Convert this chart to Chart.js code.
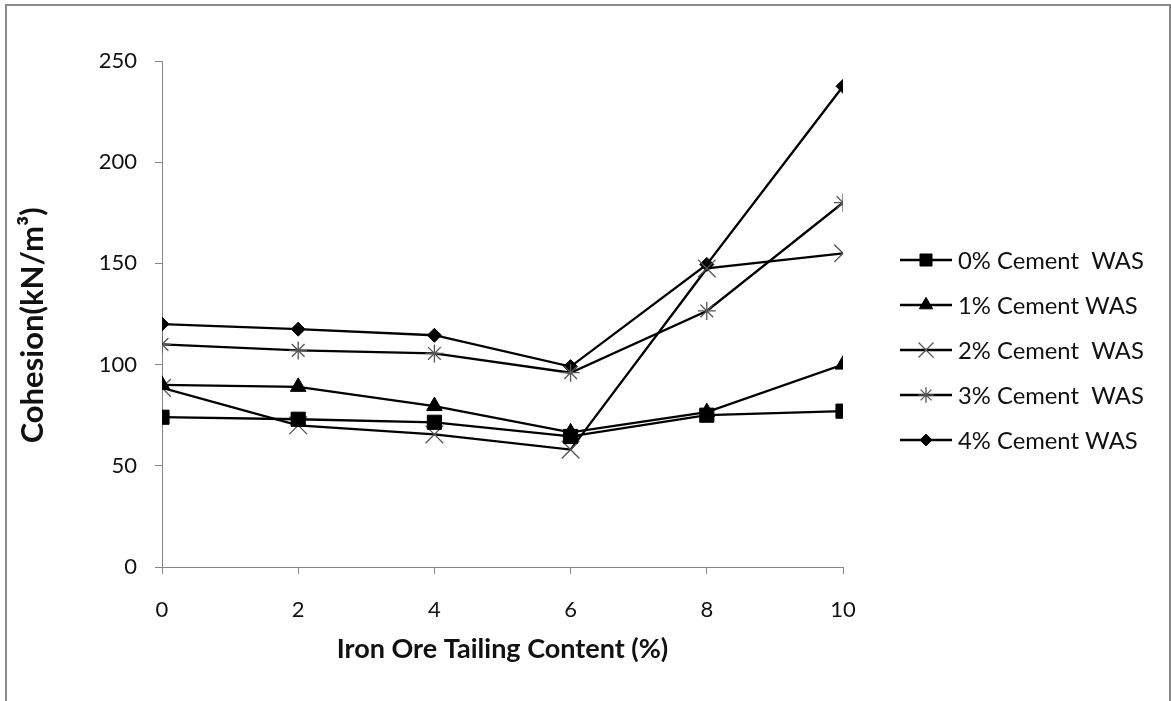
<!DOCTYPE html>
<html>
<head>
<meta charset="utf-8">
<script src="https://cdn.jsdelivr.net/npm/chart.js@4.4.1/dist/chart.umd.min.js"></script>
<style>
  html, body { margin: 0; padding: 0; background: #fff; overflow: hidden; }
  #wrap { position: relative; width: 1171px; height: 701px; }
  #frame {
    position: absolute; left: 5px; top: 4px; width: 1162px; height: 720px;
    border: 2px solid #8a8a8a; pointer-events: none;
  }
  canvas { position: absolute; left: 0; top: 0; }
</style>
</head>
<body>
<div id="wrap">
  <canvas id="chart" width="1171" height="701"></canvas>
  <div id="frame"></div>
</div>
<script>
// iron ore tailing content (%)
const xValues = [0, 2, 4, 6, 8, 10]

// cohesion
const cement0 = [74, 73, 71.5, 64.5, 75, 77]
const cement1 = [90, 89, 79.5, 66.5, 76.5, 100]
const cement2 = [88.5, 70, 65.5, 58, 147.5, 155]
const cement3 = [110, 107, 105.5, 96, 126.5, 180]
const cement4 = [120, 117.5, 114.5, 99, 149.5, 237.5]

const seriesLabels = ['0% Cement  WAS', '1% Cement WAS', '2% Cement  WAS', '3% Cement  WAS', '4% Cement WAS']
const seriesValues = [cement0, cement1, cement2, cement3, cement4]
const pointStyles = ['rect', 'triangle', 'crossRot', 'star', 'rectRot']

const xTitle = 'Iron Ore Tailing Content (%)'
const yTitle = 'Cohesion(kN/m\u00B3)   '

const FONT = 'Lato'
const axisGray = '#868686'

// legend placement (custom legend: line + marker + text)
const legendX = 900
const legendTop = 260
const legendGap = 45
const legendLine = 52

function markerOptions(style) {
    if (style === 'rect') return { r: 10, fill: '#000', stroke: '#000', w: 1 }
    if (style === 'triangle') return { r: 9, fill: '#000', stroke: '#000', w: 1 }
    if (style === 'crossRot') return { r: 12.5, fill: 'rgba(0,0,0,0)', stroke: '#555', w: 1.3 }
    if (style === 'star') return { r: 9, fill: 'rgba(0,0,0,0)', stroke: '#555', w: 1.3 }
    return { r: 7, fill: '#000', stroke: '#000', w: 1 }
}

function buildDatasets() {
    return seriesValues.map((vals, i) => {
        const m = markerOptions(pointStyles[i])
        return {
            label: seriesLabels[i],
            data: vals.map((v, j) => ({ x: xValues[j], y: v })),
            borderColor: '#000',
            borderWidth: 2.3,
            tension: 0,
            pointStyle: pointStyles[i],
            pointRadius: m.r,
            pointBackgroundColor: m.fill,
            pointBorderColor: m.stroke,
            pointBorderWidth: m.w
        }
    })
}

const legendPlugin = {
    id: 'lineLegend',
    afterDraw(chart) {
        const ctx = chart.ctx
        chart.data.datasets.forEach((ds, i) => {
            const y = legendTop + i * legendGap
            ctx.save()
            ctx.strokeStyle = ds.borderColor
            ctx.lineWidth = ds.borderWidth
            ctx.beginPath()
            ctx.moveTo(legendX, y)
            ctx.lineTo(legendX + legendLine, y)
            ctx.stroke()
            ctx.strokeStyle = ds.pointBorderColor
            ctx.fillStyle = ds.pointBackgroundColor
            ctx.lineWidth = ds.pointBorderWidth
            Chart.helpers.drawPoint(ctx, {
                pointStyle: ds.pointStyle,
                rotation: 0,
                radius: ds.pointRadius * 0.85,
                borderWidth: ds.pointBorderWidth
            }, legendX + legendLine / 2, y)
            ctx.fillStyle = '#111'
            ctx.font = '23.8px ' + FONT
            ctx.textBaseline = 'middle'
            ctx.textAlign = 'left'
            ctx.fillText(ds.label, legendX + legendLine + 6, y + 1)
            ctx.restore()
        })
    }
}

function draw() {
    new Chart(document.getElementById('chart'), {
        type: 'line',
        data: { datasets: buildDatasets() },
        plugins: [legendPlugin],
        options: {
            responsive: false,
            animation: false,
            devicePixelRatio: 1,
            layout: { padding: { left: 10, top: 61, right: 328, bottom: 20 } },
            plugins: {
                legend: { display: false },
                tooltip: { enabled: false }
            },
            scales: {
                x: {
                    type: 'linear',
                    min: 0,
                    max: 10,
                    ticks: { stepSize: 2, padding: 23, color: '#111', font: { family: FONT, size: 22 } },
                    grid: { drawOnChartArea: false, tickLength: 7, color: axisGray },
                    border: { color: axisGray, width: 1 },
                    title: {
                        display: true, text: xTitle, color: '#111',
                        font: { family: FONT, size: 27, weight: 'bold' },
                        padding: { top: 0, bottom: 16 }
                    },
                    afterFit: s => { s.height = 114 }
                },
                y: {
                    min: 0,
                    max: 250,
                    ticks: { stepSize: 50, padding: 18, color: '#111', font: { family: FONT, size: 22 } },
                    grid: { drawOnChartArea: false, tickLength: 7, color: axisGray },
                    border: { color: axisGray, width: 1 },
                    title: {
                        display: true, text: yTitle, color: '#111',
                        font: { family: FONT, size: 31, weight: 'bold' },
                        padding: { top: 4, bottom: 0 }
                    },
                    afterFit: s => { s.width = 152 }
                }
            }
        }
    })
}

Promise.all([
    document.fonts.load('22px ' + FONT),
    document.fonts.load('bold 27px ' + FONT)
]).then(draw, draw)
</script>
</body>
</html>
